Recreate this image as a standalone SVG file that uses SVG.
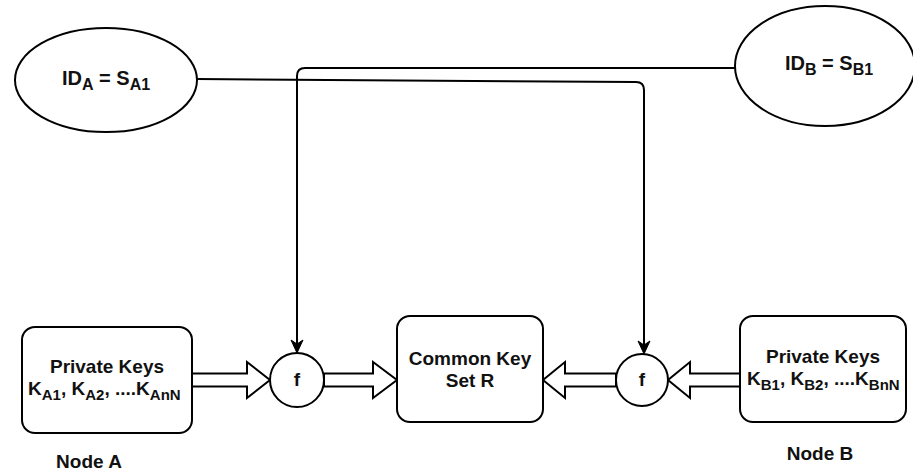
<svg xmlns="http://www.w3.org/2000/svg" width="913" height="473" viewBox="0 0 913 473">
<style>
.shape{fill:#fff;stroke:#000;stroke-width:2}
.line{fill:none;stroke:#000;stroke-width:2}
.t{font-family:"Liberation Sans",Arial,sans-serif;font-weight:bold;font-size:19px;fill:#111}
.s{font-size:15px}
.id{font-size:20px}
.ids{font-size:16px}
</style>
<rect width="913" height="473" fill="#fff"/>
<g id="connectors">
<path class="line" d="M197,79 L636,82 Q644,82 644,90 L644,352"/>
<path class="line" d="M735,68 L305,68 Q297,68 297,76 L297,352"/>
<path d="M297,353 l-6,-13 l6,4 l6,-4 z" fill="#000" stroke="#000" stroke-width="1"/>
<path d="M644,354 l-6,-13 l6,4 l6,-4 z" fill="#000" stroke="#000" stroke-width="1"/>
<polygon class="shape" points="192,373.5 247,373.5 247,362 270,380 247,398 247,386.5 192,386.5"/>
<polygon class="shape" points="324,373.5 373,373.5 373,362 397,380 373,398 373,386.5 324,386.5"/>
<polygon class="shape" points="616,373.5 565,373.5 565,362 543,380 565,398 565,386.5 616,386.5"/>
<polygon class="shape" points="740,373.5 690,373.5 690,362 668,380 690,398 690,386.5 740,386.5"/>
</g>
<g id="idA">
<ellipse class="shape" cx="106" cy="80" rx="91" ry="52"/>
<text class="t id" x="62" y="85">ID<tspan class="ids" dy="5">A</tspan><tspan dy="-5"> = S</tspan><tspan class="ids" dy="5">A1</tspan></text>
</g>
<g id="idB">
<ellipse class="shape" cx="825" cy="66" rx="90" ry="60"/>
<text class="t id" x="785" y="70">ID<tspan class="ids" dy="5">B</tspan><tspan dy="-5"> = S</tspan><tspan class="ids" dy="5">B1</tspan></text>
</g>
<g id="nodeA">
<rect class="shape" x="22" y="327" width="170" height="106" rx="13"/>
<text class="t" x="107" y="373" text-anchor="middle">Private Keys</text>
<text class="t" x="28" y="395">K<tspan class="s" dy="5">A1</tspan><tspan dy="-5">, K</tspan><tspan class="s" dy="5">A2</tspan><tspan dy="-5">, ....K</tspan><tspan class="s" dy="5">AnN</tspan></text>
<text class="t" x="89" y="468" text-anchor="middle">Node A</text>
</g>
<g id="fA">
<circle class="shape" cx="297" cy="380" r="27"/>
<text class="t" x="297" y="386" text-anchor="middle">f</text>
</g>
<g id="common">
<rect class="shape" x="397" y="316" width="146" height="106" rx="13"/>
<text class="t" x="470" y="365" text-anchor="middle">Common Key</text>
<text class="t" x="470" y="387" text-anchor="middle">Set R</text>
</g>
<g id="fB">
<circle class="shape" cx="642" cy="380" r="26"/>
<text class="t" x="642" y="386" text-anchor="middle">f</text>
</g>
<g id="nodeB">
<rect class="shape" x="740" y="316" width="166" height="106" rx="13"/>
<text class="t" x="823" y="363" text-anchor="middle">Private Keys</text>
<text class="t" x="747" y="385">K<tspan class="s" dy="5">B1</tspan><tspan dy="-5">, K</tspan><tspan class="s" dy="5">B2</tspan><tspan dy="-5">, ....K</tspan><tspan class="s" dy="5">BnN</tspan></text>
<text class="t" x="820" y="460" text-anchor="middle">Node B</text>
</g>
</svg>
